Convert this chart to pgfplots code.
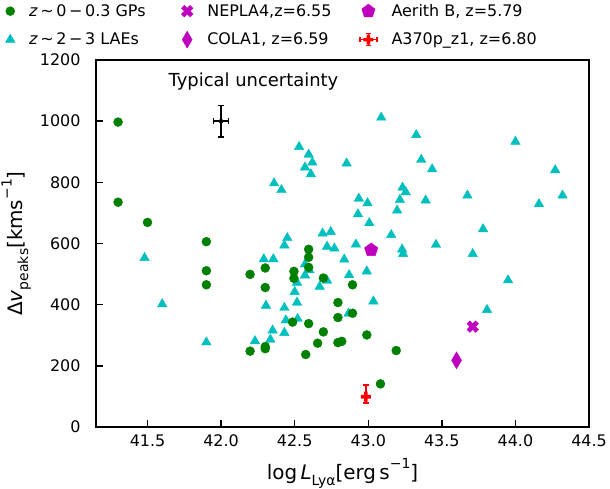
\documentclass[border=0pt]{standalone}
\usepackage{fontspec}
\setmainfont{DejaVu Sans}
\usepackage{pgfplots}
\pgfplotsset{compat=1.18}
\definecolor{mgreen}{rgb}{0,0.5,0}
\definecolor{mcyan}{rgb}{0,0.75,0.75}
\definecolor{mmag}{rgb}{0.75,0,0.75}
\pgfdeclareplotmark{Pfill}{%
  \pgfpathmoveto{\pgfqpoint{-0.36\pgfplotmarksize}{\pgfplotmarksize}}%
  \pgfpathlineto{\pgfqpoint{0.36\pgfplotmarksize}{\pgfplotmarksize}}%
  \pgfpathlineto{\pgfqpoint{0.36\pgfplotmarksize}{0.36\pgfplotmarksize}}%
  \pgfpathlineto{\pgfqpoint{\pgfplotmarksize}{0.36\pgfplotmarksize}}%
  \pgfpathlineto{\pgfqpoint{\pgfplotmarksize}{-0.36\pgfplotmarksize}}%
  \pgfpathlineto{\pgfqpoint{0.36\pgfplotmarksize}{-0.36\pgfplotmarksize}}%
  \pgfpathlineto{\pgfqpoint{0.36\pgfplotmarksize}{-\pgfplotmarksize}}%
  \pgfpathlineto{\pgfqpoint{-0.36\pgfplotmarksize}{-\pgfplotmarksize}}%
  \pgfpathlineto{\pgfqpoint{-0.36\pgfplotmarksize}{-0.36\pgfplotmarksize}}%
  \pgfpathlineto{\pgfqpoint{-\pgfplotmarksize}{-0.36\pgfplotmarksize}}%
  \pgfpathlineto{\pgfqpoint{-\pgfplotmarksize}{0.36\pgfplotmarksize}}%
  \pgfpathlineto{\pgfqpoint{-0.36\pgfplotmarksize}{0.36\pgfplotmarksize}}%
  \pgfpathclose\pgfusepathqfill}
\pgfdeclareplotmark{Xfill}{\pgftransformrotate{45}\pgfuseplotmark{Pfill}}
\newcommand{\lsub}[1]{\raisebox{-0.28em}{\fontsize{14}{14}\selectfont #1}}
\newcommand{\lsup}[1]{\raisebox{0.55em}{\fontsize{14}{14}\selectfont #1}}
\newcommand{\legtxt}[1]{\hspace{12bp}\makebox[150bp][l]{#1}}
\begin{document}
\begin{tikzpicture}
\useasboundingbox (-96bp,-62bp) rectangle (514bp,427bp);
\begin{axis}[
  scale only axis, width=493bp, height=367bp,
  xmin=41.15, xmax=44.5, ymin=0, ymax=1200,
  xtick={41.5,42,42.5,43,43.5,44,44.5},
  ytick={0,200,400,600,800,1000,1200},
  xtick pos=bottom, ytick pos=left,
  tick align=inside, major tick length=7bp,
  tick style={line width=1.4bp, black},
  axis line style={line width=1.6bp},
  /pgf/number format/assume math mode=true,
  xticklabel style={yshift=-4bp, /pgf/number format/.cd, fixed, fixed zerofill, precision=1},
  yticklabel style={xshift=-12bp, /pgf/number format/1000 sep={}},
  ticklabel style={font=\fontsize{16}{16}\selectfont},
  xlabel={\fontsize{20}{24}\selectfont log\,\textit{L}\lsub{Lyα}[erg\,s\lsup{−1}]},
  xlabel style={yshift=-5bp},
  ylabel={\fontsize{20}{24}\selectfont Δ\textit{v}\lsub{peaks}[kms\lsup{−1}]},
  ylabel style={yshift=2bp},
  legend columns=3,
  legend style={at={(-0.19,1.163)}, anchor=north west, draw=none, fill=none,
    font=\fontsize{16}{16}\selectfont, row sep=11bp, column sep=0bp},
  legend cell align=left,
]
% z~2-3 LAEs
\addplot[only marks, mark=triangle*, mark size=5.5bp, color=mcyan, forget plot] coordinates {
(41.48,553) (41.60,402) (41.90,277) (42.23,281) (42.29,549) (42.305,397)
(42.335,286) (42.35,316) (42.355,549) (42.36,797) (42.41,775) (42.43,594)
(42.45,618) (42.43,390) (42.43,308) (42.44,349) (42.50,442) (42.516,407)
(42.516,472) (42.52,354) (42.53,916) (42.57,849) (42.57,496) (42.57,532)
(42.595,891) (42.60,513) (42.61,827) (42.62,865) (42.67,459) (42.69,633)
(42.72,479) (42.72,590) (42.745,638) (42.77,584) (42.837,548) (42.853,862)
(42.866,371) (42.87,497) (42.916,597) (42.93,696) (42.936,747) (42.99,509)
(42.995,732) (43.007,667) (43.035,411) (43.088,1012) (43.156,628) (43.196,708)
(43.215,743) (43.233,783) (43.23,581) (43.237,566) (43.255,768) (43.326,955)
(43.36,874) (43.39,741) (43.434,843) (43.46,596) (43.674,757) (43.71,566)
(43.78,647) (43.807,383) (43.95,480) (44.0,933) (44.16,729) (44.27,840)
(44.32,757)
};
% z~0-0.3 GPs
\addplot[only marks, mark=*, mark size=4.5bp, color=mgreen, forget plot] coordinates {
(41.3,997) (41.3,735) (41.5,669) (41.9,606) (41.9,511) (41.9,465)
(42.197,499) (42.197,248) (42.30,520) (42.30,456) (42.30,263) (42.30,256)
(42.486,343) (42.495,509) (42.495,486) (42.575,237) (42.595,581) (42.595,555)
(42.595,522) (42.595,338) (42.656,274) (42.695,487) (42.695,311) (42.794,407)
(42.794,358) (42.794,276) (42.82,280) (42.893,465) (42.893,372) (42.99,301)
(43.083,141) (43.19,250)
};
% NEPLA4
\addplot[only marks, mark=Xfill, mark size=6.4bp, color=mmag, forget plot] coordinates {(43.71,328)};
% COLA1
\addplot[only marks, mark=diamond*, mark size=8.5bp, mark options={xscale=0.78}, color=mmag, forget plot] coordinates {(43.60,218)};
% Aerith B
\addplot[only marks, mark=pentagon*, mark size=7bp, color=mmag, forget plot] coordinates {(43.02,579)};
% A370p_z1
\addplot[only marks, mark=Pfill, mark size=5bp, color=red, forget plot,
  error bars/.cd, x dir=both, x explicit, y dir=both, y explicit,
  error bar style={line width=1.4bp, red},
  error mark options={rotate=90, mark size=3bp, line width=1.4bp, red}]
  coordinates {(42.984,99) +- (0.05,0) += (0,38) -= (0,21)};
% typical uncertainty
\addplot[only marks, mark=none, color=black, forget plot,
  error bars/.cd, x dir=both, x explicit, y dir=both, y explicit,
  error bar style={line width=1.7bp, black},
  error mark options={rotate=90, mark size=2.8bp, line width=1.5bp, black}]
  coordinates {(42.0,1000) +- (0.051,51)};
\node[font=\fontsize{18}{18}\selectfont] at (axis cs:42.22,1128) {Typical uncertainty};
% legend
\addlegendimage{only marks, mark=*, mark size=4.5bp, color=mgreen}
\addlegendentry{\legtxt{\textit{z}\,∼\,0\,−\,0.3 GPs}}
\addlegendimage{only marks, mark=Xfill, mark size=6.4bp, color=mmag}
\addlegendentry{\legtxt{NEPLA4,z=6.55}}
\addlegendimage{only marks, mark=pentagon*, mark size=7bp, color=mmag}
\addlegendentry{\legtxt{Aerith B, z=5.79}}
\addlegendimage{only marks, mark=triangle*, mark size=5.5bp, color=mcyan}
\addlegendentry{\legtxt{\textit{z}\,∼\,2\,−\,3 LAEs}}
\addlegendimage{only marks, mark=diamond*, mark size=8.5bp, mark options={xscale=0.78}, color=mmag}
\addlegendentry{\legtxt{COLA1, z=6.59}}
\addlegendimage{red, legend image code/.code={
  \draw[red, line width=1.2bp] (0.3cm,-0.22cm)--(0.3cm,0.22cm) (0.22cm,0.22cm)--(0.38cm,0.22cm) (0.22cm,-0.22cm)--(0.38cm,-0.22cm);
  \draw[red, line width=1.2bp] (0.0cm,0cm)--(0.6cm,0cm) (0.0cm,-0.08cm)--(0.0cm,0.08cm) (0.6cm,-0.08cm)--(0.6cm,0.08cm);
  \fill[red] plot[only marks, mark=Pfill, mark size=5bp] coordinates {(0.3cm,0cm)};
}}
\addlegendentry{\legtxt{A370p\_z1, z=6.80}}
\end{axis}
\end{tikzpicture}
\end{document}
